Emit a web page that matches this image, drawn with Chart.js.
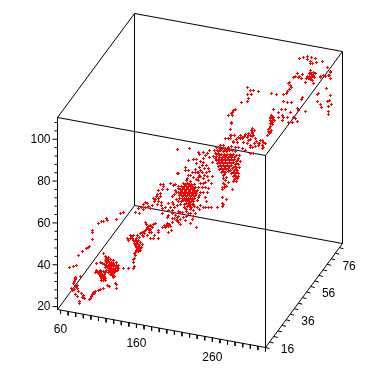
<!DOCTYPE html>
<html><head><meta charset="utf-8">
<style>html,body{margin:0;padding:0;background:#fff}canvas{display:block}</style>
<script src="https://cdn.jsdelivr.net/npm/chart.js@4"></script></head>
<body><canvas id="c" width="384" height="384"></canvas>
<script>
// Axis ranges and tick labels of the 3-D box
const xRange=[56,330], yRange=[16,91], zRange=[18.6,110.4];
const xLabels=[60,160,260], yLabels=[16,36,56,76], zLabels=[20,40,60,80,100];
const xMinor=[60,70,80,90,100,110,120,130,140,150,160,170,180,190,200,210,220,230,240,250,260,270,280,290,300,310,320,330];
const yMinor=[16,20,24,28,32,36,40,44,48,52,56,60,64,68,72,76,80,84,88];
const zMinor=[20,24,28,32,36,40,44,48,52,56,60,64,68,72,76,80,84,88,92,96,100,104,108];
const lowerLeft=[[123,212],[120,213],[116,219],[106,218],[107,220],[103,221],[101,221],[98,223],[92,230],[92,232],[92,239],[89,246],[88,247],[86,248],[82,251],[78,255],[76,265],[73,266],[69,267],[75,277],[75,278],[80,276],[73,283],[75,285],[77,285],[77,288],[74,289],[72,290],[75,294],[77,296],[81,293],[82,297],[84,298],[79,301],[79,303],[89,299],[91,296],[93,292],[95,291],[98,290],[100,289],[103,288],[107,285],[109,286],[116,284],[116,288],[75,279],[74,281],[71,288],[76,287],[78,291],[83,295],[90,298],[92,294],[94,293]];
const clusterA=[[103,253],[106,258],[108,257],[110,259],[100,262],[102,263],[96,263],[105,260],[107,262],[109,262],[111,262],[113,263],[104,264],[106,265],[108,265],[110,265],[112,265],[114,265],[116,265],[105,267],[107,267],[109,267],[111,268],[113,268],[115,268],[117,267],[109,270],[111,270],[113,270],[115,271],[111,272],[113,273],[112,275],[114,276],[110,274],[95,272],[97,271],[99,271],[101,271],[103,271],[105,272],[98,273],[100,273],[102,274],[104,274],[100,276],[102,276],[104,276],[101,278],[103,278],[105,278],[101,280],[103,280],[105,280],[118,268],[123,268],[128,268],[133,268],[115,283],[116,288],[113,277],[117,270],[107,259],[105,256],[108,261],[110,263],[112,264],[109,264],[107,266],[111,266],[113,266],[115,266],[108,268],[110,268],[112,269],[114,269],[112,271],[110,272],[114,272],[99,274],[101,275],[103,275],[102,277],[104,279],[100,270],[108,272],[96,270],[106,270],[118,265],[116,262],[113,260],[106,262]];
const clusterB=[[134,258],[133,262],[134,253],[134,266],[135,252],[133,259],[155,223],[152,227],[148,228],[145,222],[150,225],[147,227],[145,230],[142,232],[149,232],[147,235],[142,235],[137,235],[133,235],[130,235],[127,238],[132,238],[135,240],[138,240],[137,243],[140,242],[135,245],[138,246],[141,247],[137,249],[140,250],[150,238],[153,238],[158,238],[154,235],[158,232],[162,227],[158,230],[164,225],[167,223],[169,224],[165,227],[168,232],[171,230],[167,217],[174,218],[177,217],[178,222],[136,243],[138,244],[139,248],[136,247],[134,241],[150,229],[144,233],[146,224],[148,226],[146,229],[144,231],[140,233],[136,238],[133,240],[134,243],[136,241],[139,245],[142,244],[136,250],[138,251],[135,255],[151,226],[153,224],[149,230],[151,232],[143,236],[139,237],[131,236],[128,240],[130,238],[166,225],[168,226],[170,226],[172,222],[176,220],[180,219],[172,218]];
const midStrand=[[158,190],[160,193],[157,194],[153,198],[155,199],[158,198],[162,189],[167,189],[145,202],[143,204],[147,203],[152,205],[157,204],[161,205],[168,203],[172,202],[170,207],[174,207],[168,210],[162,208],[162,213],[168,215],[172,213],[175,215],[177,220],[180,212],[185,208],[188,213],[196,227],[193,216],[183,217],[145,207],[141,207],[138,208],[135,212],[139,213],[143,209],[150,208],[163,184],[160,184],[163,186],[170,183],[175,184],[178,186],[173,185],[175,190],[178,173],[188,175],[197,172],[199,175],[177,149],[189,148],[198,152],[203,152],[199,154],[209,150],[205,155],[207,153],[203,162],[188,160],[193,159],[196,159],[203,158],[202,165],[199,167],[185,167],[185,170],[177,173],[195,169],[195,172],[198,172],[202,172],[206,172],[208,168],[190,175],[187,178],[193,177],[198,177],[198,180],[203,178],[205,182],[208,180],[200,183],[203,183],[202,187],[205,187],[200,192],[203,192],[205,197],[206,201],[205,207],[203,207],[208,207],[211,207],[200,205],[197,207],[193,204],[193,210],[222,197],[226,199],[222,203],[222,206],[223,204],[217,207],[232,189],[222,187],[228,182],[160,196],[156,196],[165,207],[172,210],[178,211],[182,212],[186,211],[190,213],[178,216],[186,216],[192,219],[185,220],[190,223],[180,224],[195,213],[199,209],[158,201],[161,202],[154,201],[148,206],[177,205],[173,204],[196,179],[200,176],[192,172],[188,170],[204,175],[207,176],[200,170],[204,168],[206,165],[200,161],[196,163],[209,157],[212,162],[209,171],[212,176],[211,183],[208,188],[207,192]];
const clusterC=[[186,180],[190,181],[183,183],[187,183],[191,184],[194,184],[181,186],[184,186],[186,186],[188,186],[190,186],[192,186],[195,187],[178,188],[180,189],[182,189],[184,189],[186,189],[188,189],[190,189],[192,189],[194,190],[197,190],[176,192],[178,192],[180,192],[182,192],[184,192],[186,192],[188,192],[190,192],[192,192],[194,192],[196,193],[179,195],[181,195],[183,195],[185,195],[187,195],[189,195],[191,195],[193,195],[195,195],[182,198],[184,198],[186,198],[188,198],[190,198],[192,198],[194,198],[198,197],[183,200],[185,200],[187,200],[189,201],[191,201],[193,201],[186,203],[188,203],[190,204],[192,204],[187,206],[189,206],[191,207],[186,209],[190,209],[185,184],[189,184],[183,187],[187,187],[191,187],[193,188],[181,190],[185,190],[189,190],[193,191],[180,193],[184,193],[188,193],[192,193],[196,191],[182,196],[186,196],[190,196],[194,196],[184,199],[188,199],[192,199],[186,201],[190,202],[188,205],[174,194],[172,196],[176,199],[179,198],[178,201],[181,201],[180,204],[184,204],[184,207],[194,206],[197,200],[199,195],[198,187]];
const clusterD=[[220,145],[223,145],[225,138],[230,135],[230,138],[233,141],[237,142],[240,135],[245,134],[248,135],[252,133],[252,136],[250,139],[242,138],[235,147],[238,147],[242,148],[245,150],[250,153],[253,153],[250,147],[258,145],[262,140],[262,145],[263,147],[259,143],[216,147],[219,148],[222,148],[225,148],[228,147],[231,146],[214,150],[217,150],[220,150],[223,151],[226,151],[229,150],[232,150],[235,151],[215,153],[218,153],[221,154],[224,154],[227,154],[230,154],[233,154],[236,155],[239,155],[213,156],[216,156],[219,157],[222,157],[225,157],[228,157],[231,157],[234,157],[238,158],[216,160],[219,160],[222,160],[225,160],[229,160],[233,160],[236,161],[240,161],[217,163],[220,163],[223,163],[227,163],[231,163],[235,164],[238,164],[218,166],[221,166],[225,166],[229,166],[233,167],[236,167],[219,169],[222,169],[226,169],[230,170],[234,170],[237,170],[221,172],[225,172],[231,173],[235,173],[238,173],[223,175],[233,176],[236,176],[223,178],[225,180],[223,183],[224,187],[222,189],[234,179],[237,178],[218,151],[221,149],[224,150],[227,149],[216,154],[219,155],[223,156],[226,155],[229,156],[232,155],[235,156],[215,158],[218,159],[221,159],[224,159],[227,159],[231,159],[234,159],[237,160],[218,162],[221,162],[225,162],[229,162],[233,162],[236,163],[220,165],[223,165],[227,165],[231,165],[235,166],[221,168],[224,168],[228,168],[232,168],[235,169],[239,167],[223,171],[228,171],[233,172],[236,172],[224,174],[234,175],[238,176],[235,178],[233,181],[236,181],[226,177],[224,184],[226,186]];
const upperMid=[[232,112],[235,109],[232,115],[231,122],[241,102],[247,87],[247,94],[250,90],[253,90],[251,94],[258,91],[247,101],[248,98],[271,93],[276,94],[283,94],[283,101],[287,102],[291,102],[273,109],[281,109],[278,112],[285,109],[290,112],[297,108],[298,110],[301,99],[302,97],[305,111],[278,117],[282,115],[283,117],[287,117],[282,120],[288,122],[293,117],[295,118],[292,122],[297,121],[272,116],[270,117],[272,118],[273,117],[272,120],[270,120],[274,120],[272,122],[272,124],[269,128],[271,130],[268,131],[267,135],[269,133],[252,128],[253,135],[252,132],[250,135],[245,134],[240,135],[242,137],[238,137],[247,137],[243,142],[234,135],[231,135],[233,142],[255,138],[260,140],[263,142],[258,143],[255,146],[250,145],[252,147],[228,115],[231,113],[233,110],[231,123],[230,129],[231,135],[228,138],[271,115],[273,119],[271,121],[270,126],[268,129],[270,132],[254,130],[251,130],[248,133],[244,136],[240,138],[236,139],[256,141],[248,140],[247,143],[254,143],[262,148],[265,143],[270,118],[270,123]];
const topRight=[[287,91],[289,89],[290,85],[289,82],[291,87],[288,83],[293,77],[297,73],[298,77],[302,74],[301,78],[307,76],[309,73],[312,75],[308,78],[312,80],[313,83],[310,70],[313,72],[305,82],[315,73],[320,76],[323,75],[328,75],[330,78],[330,72],[327,67],[316,62],[310,63],[307,56],[303,57],[299,58],[311,57],[315,58],[307,59],[310,61],[322,61],[312,63],[330,71],[329,75],[325,76],[320,77],[326,88],[318,93],[317,94],[330,95],[329,100],[327,101],[317,101],[331,104],[328,106],[320,104],[321,107],[328,111],[328,114],[310,72],[311,74],[309,76],[311,77],[313,75],[314,77],[306,78],[310,79],[286,93],[299,76],[295,76]];

// Orthographic projection of the box into the picture plane
const origin=[57,309], ex=[208,38], ey=[77,-104], ez=[0,-192];
function project(x,y,z){
  const u=(x-xRange[0])/(xRange[1]-xRange[0]), v=(y-yRange[0])/(yRange[1]-yRange[0]), w=(z-zRange[0])/(zRange[1]-zRange[0]);
  return {x:origin[0]+u*ex[0]+v*ey[0]+w*ez[0], y:origin[1]+u*ex[1]+v*ey[1]+w*ez[1]};
}
const gap={x:NaN,y:NaN};
const [x0,x1]=xRange,[y0,y1]=yRange,[z0,z1]=zRange;
const edges=[[[x0,y0,z0],[x1,y0,z0]],[[x1,y0,z0],[x1,y1,z0]],[[x1,y1,z0],[x0,y1,z0]],[[x0,y1,z0],[x0,y0,z0]],
[[x0,y0,z1],[x1,y0,z1]],[[x1,y0,z1],[x1,y1,z1]],[[x1,y1,z1],[x0,y1,z1]],[[x0,y1,z1],[x0,y0,z1]],
[[x0,y0,z0],[x0,y0,z1]],[[x1,y0,z0],[x1,y0,z1]],[[x1,y1,z0],[x1,y1,z1]],[[x0,y1,z0],[x0,y1,z1]]];
const boxLine=[];
edges.forEach(e=>boxLine.push(project(...e[0]),project(...e[1]),gap));
const tickLine=[];
xMinor.forEach(t=>{const p=project(t,y0,z0);tickLine.push(p,{x:p.x,y:p.y+4},gap);});
yMinor.forEach(t=>{const q=project(x1,t,z0);tickLine.push(q,{x:q.x+4,y:q.y+1},gap);});
zMinor.forEach(t=>{const p=project(x0,y0,t);const len=zLabels.includes(t)?5:3;tickLine.push(p,{x:p.x-len,y:p.y},gap);});

const plus=document.createElement('canvas');plus.width=3;plus.height=3;
const g=plus.getContext('2d');g.fillStyle='#ff0000';g.fillRect(1,0,1,3);g.fillRect(0,1,3,1);

const toPts=a=>a.map(p=>({x:p[0],y:p[1]}));
const allPoints=[].concat(lowerLeft,clusterA,clusterB,midStrand,clusterC,clusterD,upperMid,topRight);

const axisText={id:'axisText',afterDraw(c){
  const {ctx,scales:{x,y}}=c;
  ctx.save();ctx.fillStyle='#000';ctx.font='12px "Liberation Sans"';ctx.textBaseline='middle';
  const put=(s,p,dx,dy,al)=>{ctx.textAlign=al;ctx.fillText(String(s),x.getPixelForValue(p.x)+dx,y.getPixelForValue(p.y)+dy);};
  xLabels.forEach(t=>put(t,project(t,y0,z0),0,19.5,'center'));
  yLabels.forEach(t=>put(t,project(x1,t,z0),22,2,'center'));
  zLabels.forEach(t=>put(t,project(x0,y0,t),-7,0.5,'right'));
  ctx.restore();
}};

new Chart(document.getElementById('c'),{
  type:'scatter',
  data:{datasets:[
    {label:'points',data:toPts(allPoints),pointStyle:plus,pointRadius:1.5,showLine:false,order:1},
    {label:'box',data:boxLine,showLine:true,spanGaps:false,pointRadius:0,borderColor:'#000',borderWidth:1,order:2},
    {label:'ticks',data:tickLine,showLine:true,spanGaps:false,pointRadius:0,borderColor:'#000',borderWidth:1,order:3}
  ]},
  options:{responsive:false,animation:false,events:[],devicePixelRatio:1,layout:{padding:0,autoPadding:false},
    plugins:{legend:{display:false},tooltip:{enabled:false}},
    scales:{x:{type:'linear',display:false,min:-0.5,max:383.5},y:{type:'linear',display:false,reverse:true,min:-0.5,max:383.5}}},
  plugins:[axisText]
});
</script></body></html>
